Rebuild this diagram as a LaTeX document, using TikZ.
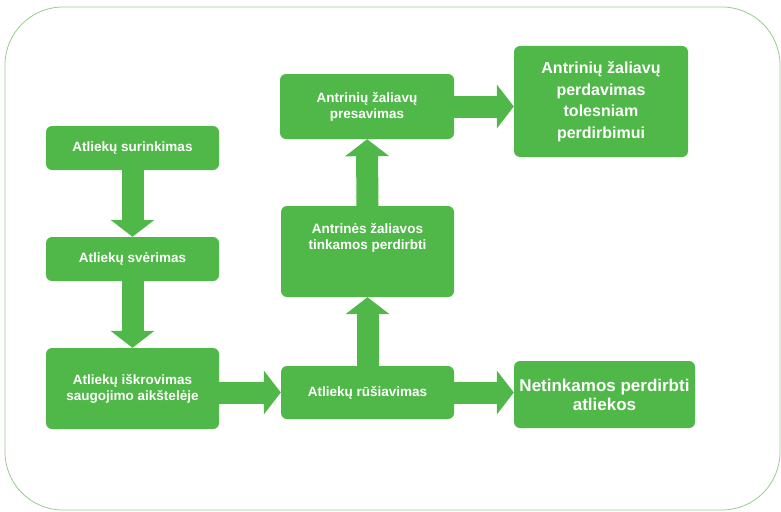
\documentclass[tikz,border=0pt]{standalone}
\usepackage{fontspec}
\setmainfont{Liberation Sans}
\usetikzlibrary{arrows.meta}

\definecolor{boxgreen}{RGB}{80,184,72}
\definecolor{framegreen}{RGB}{150,205,140}
\newcommand\stagefont{\fontsize{13.5}{16}\selectfont\bfseries}
\newcommand\bigstagefont{\fontsize{16}{21.5}\selectfont\bfseries}
\newcommand\wastefont{\fontsize{17}{19}\selectfont\bfseries}

\begin{document}
\begin{tikzpicture}[x=1pt,y=-1pt,
  stage/.style={rectangle,rounded corners=6pt,fill=boxgreen,text=white,
    inner sep=0pt,align=center,minimum width=173pt,font=\stagefont},
  bigstage/.style={stage,font=\bigstagefont},
  stagetext/.style={text=white,inner sep=0pt,align=center,font=\stagefont},
  flow/.style={draw=boxgreen,line width=22pt,
    -{Triangle[width=44pt,length=17pt,line width=0pt]}}]
  \useasboundingbox (0,0) rectangle (781,511);
  % frame
  \draw[framegreen,line width=0.8pt,rounded corners=58pt] (5,7) rectangle (780,510);
  % left column
  \node[stage,minimum height=44pt] (collect) at (132.5,148) {Atliekų surinkimas};
  \node[stage,minimum height=44pt] (weigh) at (132.5,259) {Atliekų svėrimas};
  \node[stage,minimum height=81pt] (unload) at (132.5,388.5) {Atliekų iškrovimas\\saugojimo aikštelėje};
  % middle column
  \node[stage,minimum height=53pt] (sort) at (367.5,392.5) {Atliekų rūšiavimas};
  \node[stage,minimum height=91pt] (usable) at (367.5,251.5) {};
  \node[stagetext] (usabletext) at (367.5,238) {Antrinės žaliavos\\tinkamos perdirbti};
  \node[stage,minimum width=174pt,minimum height=65pt] (press) at (367,106.5) {Antrinių žaliavų\\presavimas};
  % right column
  \node[bigstage,font=\wastefont,minimum width=181pt,minimum height=67pt] (waste) at (604.5,394.5) {Netinkamos perdirbti\\atliekos};
  \node[bigstage,minimum width=174pt,minimum height=111pt] (handover) at (601,101.5) {Antrinių žaliavų\\perdavimas\\tolesniam\\perdirbimui};
  % arrows
  \draw[flow] (collect) -- (weigh);
  \draw[flow] (weigh) -- (unload);
  \draw[flow] (unload.east |- sort) -- (sort.west);
  \draw[flow] (sort) -- (usable);
  \draw[flow] (usable) -- (press);
  \draw[flow] (press.east) -- (press.east -| handover.west);
  \draw[flow] (sort.east) -- (sort.east -| waste.west);
\end{tikzpicture}
\end{document}
